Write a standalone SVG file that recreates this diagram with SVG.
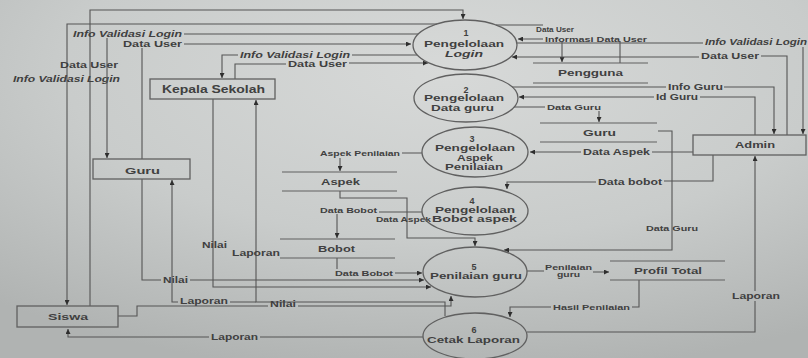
<svg xmlns="http://www.w3.org/2000/svg" width="808" height="358" viewBox="0 0 808 358">
<defs>
<radialGradient id="bg" cx="0.55" cy="0.2" r="0.85">
<stop offset="0" stop-color="#d7d9d8"/>
<stop offset="0.55" stop-color="#c9cccb"/>
<stop offset="1" stop-color="#b0b3b2"/>
</radialGradient>
<marker id="a" viewBox="0 0 6 6" refX="6" refY="3" markerWidth="5" markerHeight="5" markerUnits="userSpaceOnUse" orient="auto">
<path d="M0,0 L6,3 L0,6 z" fill="#2e2e2e"/>
</marker>
<style>
.ln{fill:none;stroke:#555;stroke-width:1.1}
.ar{marker-end:url(#a)}
.sh{fill:none;stroke:#606060;stroke-width:1.3}
.st{fill:none;stroke:#606060;stroke-width:1.2}
text{font-family:"Liberation Sans",Arial,sans-serif;font-size:9px;font-weight:bold;fill:#404040}
.s{font-size:6.5px}
.m{font-size:8px}
.i{font-style:italic}
.c{text-anchor:middle}
</style>
</defs>
<rect width="808" height="358" fill="url(#bg)"/>

<g id="connectors">
<!-- Siswa <-> P1 -->
<path class="ln ar" d="M90,306 V10 H463 V19"/>
<path class="ln ar" d="M437,24 H67 V305"/>
<text x="60" y="68" textLength="58" lengthAdjust="spacingAndGlyphs">Data User</text>
<text class="i" x="13" y="82" textLength="107" lengthAdjust="spacingAndGlyphs">Info Validasi Login</text>
<!-- Guru <-> P1 -->
<path class="ln ar" d="M418,34 H184 M107,38 V158"/>
<path class="ln ar" d="M142,159 V48 M184,44 H411"/>
<text class="i" x="73" y="37" textLength="109" lengthAdjust="spacingAndGlyphs">Info Validasi Login</text>
<text x="123" y="47" textLength="59" lengthAdjust="spacingAndGlyphs">Data User</text>
<!-- Kepala <-> P1 -->
<path class="ln ar" d="M417,55 H352 M238,55 H222 V78"/>
<path class="ln ar" d="M235,79 V64 H286 M349,63 H428"/>
<text class="i" x="240" y="58" textLength="110" lengthAdjust="spacingAndGlyphs">Info Validasi Login</text>
<text x="288" y="67" textLength="59" lengthAdjust="spacingAndGlyphs">Data User</text>
<!-- P1 <-> Pengguna -->
<path class="ln ar" d="M496,25 H543 M562,42 V62"/>
<path class="ln ar" d="M620,63 V41 M543,39 H518"/>
<text class="s" x="536" y="31.5" textLength="38" lengthAdjust="spacingAndGlyphs">Data User</text>
<text class="s" x="545" y="41.5" textLength="102" lengthAdjust="spacingAndGlyphs">Informasi Data User</text>
<!-- P1 <-> Admin -->
<path class="ln ar" d="M517,43 H703 M803,47 V134"/>
<path class="ln ar" d="M787,135 V56 H761 M699,57 H512"/>
<text class="i" x="705" y="45" textLength="102" lengthAdjust="spacingAndGlyphs">Info Validasi Login</text>
<text x="701" y="59" textLength="58" lengthAdjust="spacingAndGlyphs">Data User</text>
<!-- P2 <-> Admin -->
<path class="ln ar" d="M512,87 H666 M724,87 H774 V134"/>
<path class="ln ar" d="M755,135 V97 H700 M654,97 H519"/>
<text x="668" y="90" textLength="55" lengthAdjust="spacingAndGlyphs">Info Guru</text>
<text x="656" y="100" textLength="42" lengthAdjust="spacingAndGlyphs">Id Guru</text>
<!-- P2 -> Guru store -->
<path class="ln ar" d="M514,107 H545 M599,111 V122"/>
<text class="s" x="547" y="109.5" textLength="54" lengthAdjust="spacingAndGlyphs">Data Guru</text>
<!-- Admin -> P3 -->
<path class="ln ar" d="M693,152 H652 M581,152 H530"/>
<text x="583" y="155" textLength="67" lengthAdjust="spacingAndGlyphs">Data Aspek</text>
<!-- P3 -> Aspek -->
<path class="ln ar" d="M422,153 H402 M340,158 V171"/>
<text class="s" x="320" y="156" textLength="80" lengthAdjust="spacingAndGlyphs">Aspek Penilaian</text>
<!-- Admin -> P4 -->
<path class="ln ar" d="M713,155 V181 H664 M596,182 H507 V189"/>
<text x="598" y="184.5" textLength="64" lengthAdjust="spacingAndGlyphs">Data bobot</text>
<!-- P4 -> Bobot -->
<path class="ln ar" d="M422,212 H379 M337,214 V238"/>
<text class="s" x="320" y="212.5" textLength="57" lengthAdjust="spacingAndGlyphs">Data Bobot</text>
<!-- Aspek -> P5 -->
<path class="ln ar" d="M340,191 V198 H407 V238 H475 V246"/>
<text class="m" x="376" y="222" textLength="55" lengthAdjust="spacingAndGlyphs">Data Aspek</text>
<!-- Guru store -> P5 -->
<path class="ln ar" d="M658,131 H672 V250 H504"/>
<text class="s" x="646" y="230.5" textLength="52" lengthAdjust="spacingAndGlyphs">Data Guru</text>
<!-- Bobot -> P5 -->
<path class="ln ar" d="M337,258 V269 M395,273 H422"/>
<text class="s" x="335" y="275.5" textLength="58" lengthAdjust="spacingAndGlyphs">Data Bobot</text>
<!-- Guru -> P5 -->
<path class="ln ar" d="M142,179 V280 H161 M190,280 H424"/>
<text x="163" y="283" textLength="25" lengthAdjust="spacingAndGlyphs">Nilai</text>
<!-- Kepala -> P5 -->
<path class="ln ar" d="M213,99 V287 H431"/>
<text x="202" y="248" textLength="25" lengthAdjust="spacingAndGlyphs">Nilai</text>
<!-- P6 -> Kepala -->
<path class="ln ar" d="M445,316 V302 H256 V100"/>
<text x="232" y="256" textLength="48" lengthAdjust="spacingAndGlyphs">Laporan</text>
<!-- P6 -> Guru -->
<path class="ln ar" d="M256,302 H230 M178,302 H172 V180"/>
<text x="180" y="304" textLength="48" lengthAdjust="spacingAndGlyphs">Laporan</text>
<!-- Siswa -> P5 -->
<path class="ln ar" d="M118,316 H137 V306 H268 M298,306 H451 V296"/>
<text x="270" y="307" textLength="26" lengthAdjust="spacingAndGlyphs">Nilai</text>
<!-- P6 -> Siswa -->
<path class="ln ar" d="M423,337 H260 M209,337 H68 V329"/>
<text x="211" y="340" textLength="47" lengthAdjust="spacingAndGlyphs">Laporan</text>
<!-- P5 -> Profil Total -->
<path class="ln ar" d="M527,271 H544 M593,272 H609"/>
<text class="s" x="545" y="270" textLength="47" lengthAdjust="spacingAndGlyphs">Penilaian</text>
<text class="s" x="557" y="277" textLength="23" lengthAdjust="spacingAndGlyphs">guru</text>
<!-- Profil Total -> P6 -->
<path class="ln ar" d="M639,280 V307 H632 M551,307 H510 V317"/>
<text class="s" x="553" y="309.5" textLength="77" lengthAdjust="spacingAndGlyphs">Hasil Penilaian</text>
<!-- P6 -> Admin -->
<path class="ln ar" d="M527,332 H755 V301 M755,291 V156"/>
<text x="732" y="299" textLength="48" lengthAdjust="spacingAndGlyphs">Laporan</text>
</g>

<g id="p1">
<ellipse class="sh" cx="465" cy="45" rx="52" ry="25"/>
<text class="c" x="466" y="36">1</text>
<text x="424" y="47" textLength="80" lengthAdjust="spacingAndGlyphs">Pengelolaan</text>
<text class="i" x="445" y="56.5" textLength="38" lengthAdjust="spacingAndGlyphs">Login</text>
</g>
<g id="p2">
<ellipse class="sh" cx="466" cy="98" rx="52" ry="24"/>
<text class="c" x="466" y="92.5">2</text>
<text x="424" y="101" textLength="80" lengthAdjust="spacingAndGlyphs">Pengelolaan</text>
<text x="431" y="110.5" textLength="63" lengthAdjust="spacingAndGlyphs">Data guru</text>
</g>
<g id="p3">
<ellipse class="sh" cx="475" cy="152" rx="53" ry="25"/>
<text class="c" x="472" y="142">3</text>
<text x="435" y="151" textLength="80" lengthAdjust="spacingAndGlyphs">Pengelolaan</text>
<text x="457" y="160.5" textLength="36" lengthAdjust="spacingAndGlyphs">Aspek</text>
<text x="445" y="169.5" textLength="58" lengthAdjust="spacingAndGlyphs">Penilaian</text>
</g>
<g id="p4">
<ellipse class="sh" cx="475" cy="211" rx="53" ry="24"/>
<text class="c" x="472" y="203.5">4</text>
<text x="435" y="212.5" textLength="80" lengthAdjust="spacingAndGlyphs">Pengelolaan</text>
<text x="432" y="221.5" textLength="85" lengthAdjust="spacingAndGlyphs">Bobot aspek</text>
</g>
<g id="p5">
<ellipse class="sh" cx="475" cy="272" rx="52" ry="25"/>
<text class="c" x="474" y="269.5">5</text>
<text x="430" y="278.5" textLength="92" lengthAdjust="spacingAndGlyphs">Penilaian guru</text>
</g>
<g id="p6">
<ellipse class="sh" cx="475" cy="336" rx="52" ry="23"/>
<text class="c" x="474" y="333">6</text>
<text x="427" y="342.5" textLength="93" lengthAdjust="spacingAndGlyphs">Cetak Laporan</text>
</g>

<g id="kepala">
<rect class="sh" x="150" y="79" width="125" height="20"/>
<text x="162" y="92.5" style="font-size:10px" textLength="103" lengthAdjust="spacingAndGlyphs">Kepala Sekolah</text>
</g>
<g id="guru">
<rect class="sh" x="93" y="159" width="97" height="20"/>
<text x="125" y="174" textLength="35" lengthAdjust="spacingAndGlyphs">Guru</text>
</g>
<g id="siswa">
<rect class="sh" x="17" y="306" width="101" height="21"/>
<text x="48" y="320" textLength="40" lengthAdjust="spacingAndGlyphs">Siswa</text>
</g>
<g id="admin">
<rect class="sh" x="693" y="135" width="113" height="20"/>
<text x="735" y="148" textLength="40" lengthAdjust="spacingAndGlyphs">Admin</text>
</g>

<g id="ds-pengguna">
<path class="st" d="M533,63 H648 M533,83 H648"/>
<text x="558" y="76" textLength="65" lengthAdjust="spacingAndGlyphs">Pengguna</text>
</g>
<g id="ds-guru">
<path class="st" d="M540,123 H657 M540,142 H657"/>
<text x="583" y="136" textLength="33" lengthAdjust="spacingAndGlyphs">Guru</text>
</g>
<g id="ds-aspek">
<path class="st" d="M282,172 H397 M282,191 H397"/>
<text x="321" y="185" textLength="39" lengthAdjust="spacingAndGlyphs">Aspek</text>
</g>
<g id="ds-bobot">
<path class="st" d="M280,239 H395 M280,258 H395"/>
<text x="318" y="252" textLength="37" lengthAdjust="spacingAndGlyphs">Bobot</text>
</g>
<g id="ds-profil">
<path class="st" d="M610,261 H725 M610,280 H725"/>
<text x="634" y="274" textLength="68" lengthAdjust="spacingAndGlyphs">Profil Total</text>
</g>
</svg>
